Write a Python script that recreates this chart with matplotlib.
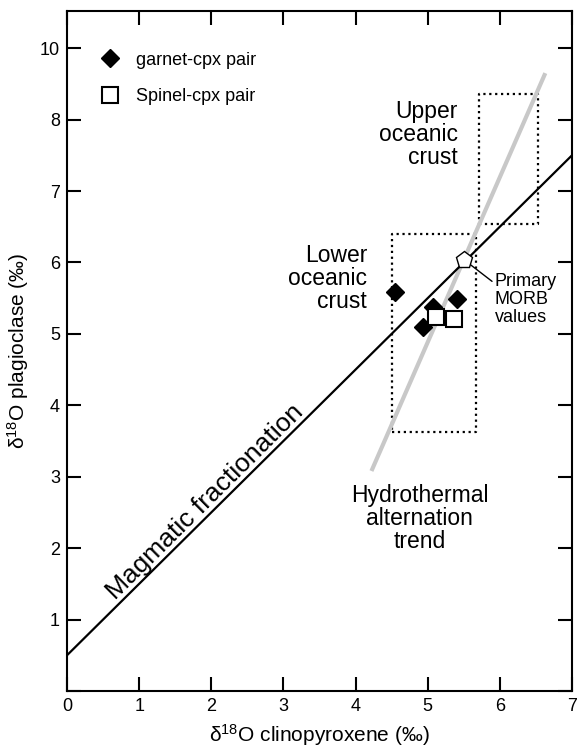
import numpy as np
import matplotlib
matplotlib.use('Agg')
import matplotlib.pyplot as plt

plt.rcParams['font.family'] = ['Liberation Sans', 'DejaVu Sans']
plt.rcParams['mathtext.fontset'] = 'custom'
plt.rcParams['mathtext.rm'] = 'Liberation Sans'
plt.rcParams['mathtext.default'] = 'regular'

# 数据：样品点
garnet_x = [4.54, 4.93, 5.07, 5.40]
garnet_y = [5.59, 5.10, 5.37, 5.49]
spinel_x = [5.12, 5.36]
spinel_y = [5.24, 5.21]
morb_x = [5.50]
morb_y = [6.04]

# 趋势线
magmatic_x = [0, 7]
magmatic_y = [0.5, 7.5]
hydro_x = [4.22, 6.63]
hydro_y = [3.08, 8.65]

# 洋壳范围 (x0, x1, y0, y1)
lower_box = [4.51, 5.67, 3.63, 6.40]
upper_box = [5.71, 6.53, 6.54, 8.36]

x_ticks = [0, 1, 2, 3, 4, 5, 6, 7]
y_ticks = [0, 1, 2, 3, 4, 5, 6, 7, 8, 9]
y_tick_labels = ['', '1', '2', '3', '4', '5', '6', '7', '8', '10']  # 原图最上面的刻度写作10

fig = plt.figure(figsize=(5.77, 7.48), dpi=100)
ax = fig.add_axes([67 / 577, 57 / 748, 505 / 577, 680 / 748])
ax.set_xlim(0, 7)
ax.set_ylim(0, 9.52)

# 线
ax.plot(magmatic_x, magmatic_y, color='black', lw=1.6, zorder=3)
ax.plot(hydro_x, hydro_y, color='#c8c8c8', lw=3, solid_capstyle='butt', zorder=2)

# 虚线框
for b in [lower_box, upper_box]:
    ax.plot([b[0], b[1], b[1], b[0], b[0]], [b[2], b[2], b[3], b[3], b[2]],
            color='black', ls=':', lw=1.6, zorder=1)

# 点
ax.plot(garnet_x, garnet_y, 'D', color='black', ms=9.5, ls='none', zorder=4,
        label='garnet-cpx pair')
ax.plot(spinel_x, spinel_y, 's', mfc='white', mec='black', mew=1.5, ms=11,
        ls='none', zorder=5, label='Spinel-cpx pair')
ax.plot(morb_x, morb_y, 'p', mfc='white', mec='black', mew=1.0, ms=12.5,
        ls='none', zorder=6)

ax.annotate('Primary\nMORB\nvalues', xy=(morb_x[0], morb_y[0]), xytext=(5.93, 5.48),
            ha='left', va='center', fontsize=13, linespacing=1.1,
            arrowprops=dict(arrowstyle='-', color='black', lw=1.0,
                            shrinkA=0, shrinkB=0, relpos=(0, 0.8)),
            zorder=5)

ax.text(4.16, 5.78, 'Lower\noceanic\ncrust', ha='right', va='center',
        fontsize=16.5, linespacing=1.0)
ax.text(5.42, 7.79, 'Upper\noceanic\ncrust', ha='right', va='center',
        fontsize=16.5, linespacing=1.0)
ax.text(4.89, 2.42, 'Hydrothermal\nalternation\ntrend', ha='center', va='center',
        fontsize=16.5, linespacing=1.0)

# 沿线文字
fig.canvas.draw()
p0 = ax.transData.transform((magmatic_x[0], magmatic_y[0]))
p1 = ax.transData.transform((magmatic_x[1], magmatic_y[1]))
ang = np.degrees(np.arctan2(p1[1] - p0[1], p1[0] - p0[0]))
ax.text(1.91, 2.65, 'Magmatic fractionation', rotation=ang, rotation_mode='anchor',
        ha='center', va='center', fontsize=19)

ax.legend(loc='upper left', bbox_to_anchor=(0.068, 0.94), frameon=False,
          fontsize=13, handlelength=1.0, handletextpad=0.9, borderpad=0,
          labelspacing=1.07, borderaxespad=0)

ax.set_xticks(x_ticks)
ax.set_yticks(y_ticks)
ax.set_yticklabels(y_tick_labels)
ax.tick_params(direction='in', top=True, right=True, length=10, width=1.5,
               labelsize=13, pad=5)
for s in ax.spines.values():
    s.set_linewidth(1.5)

ax.set_xlabel('δ$^{18}$O clinopyroxene (‰)', fontsize=15)
ax.set_ylabel('δ$^{18}$O plagioclase (‰)', fontsize=15)
ax.xaxis.set_label_coords(0.5, -0.045)
ax.yaxis.set_label_coords(-0.072, 0.5)

plt.savefig('out.png', dpi=100)
